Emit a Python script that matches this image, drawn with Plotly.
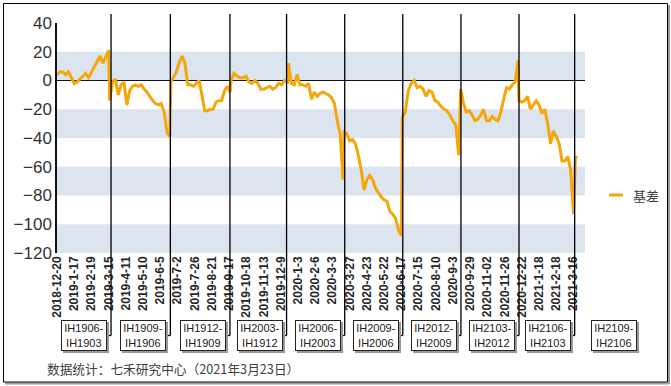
import plotly.graph_objects as go

# ---------------- data ----------------
tick_labels = ["2018-12-20", "2019-1-17", "2019-2-19", "2019-3-15", "2019-4-11", "2019-5-10",
               "2019-6-5", "2019-7-2", "2019-7-26", "2019-8-21", "2019-9-17", "2019-10-18",
               "2019-11-13", "2019-12-9", "2020-1-3", "2020-2-6", "2020-3-3", "2020-3-27",
               "2020-4-23", "2020-5-22", "2020-6-17", "2020-7-15", "2020-8-10", "2020-9-3",
               "2020-9-29", "2020-11-02", "2020-11-26", "2020-12-22", "2021-1-18", "2021-2-18",
               "2021-3-16"]
TICK_EVERY = 18  # trading days between tick labels

# main-contract basis, sampled along each contract's period (trading-day index)
seg_first_day = [0, 55, 119, 182, 242, 300, 361, 422, 483, 542]
seg_last_day = [54, 118, 181, 241, 299, 360, 420, 482, 540, 544]

basis_IH1903 = [4, 6, 6, 4, 6, 2, -2, -1, 1, 3, 5, 2, 6, 10, 14, 17, 12, 16, 21]
basis_IH1906 = [-14, -1, 1, -10, -3, -1, -17, -7, -4, -3, -4, -3, -6, -8, -11, -14, -16, -17,
                -16, -22, -36, -39]
basis_IH1909 = [-1, 3, 6, 13, 17, 12, -3, -3, -4, -2, 0, -10, -21, -21, -20, -20, -15, -14,
                -14, -7, -4, -8]
basis_IH1912 = [0, 5, 3, 2, 2, 3, -1, -2, 0, -2, -6, -6, -5, -4, -6, -5, -2, -3, 0, -1]
basis_IH2003 = [12, -2, -3, 4, -3, -3, -4, -2, -13, -8, -11, -9, -8, -9, -10, -12, -16, -28,
                -37, -69]
basis_IH2006 = [-36, -37, -42, -41, -44, -52, -62, -76, -69, -66, -69, -75, -78, -81, -83, -84,
                -91, -93, -96, -104, -108]
basis_IH2009 = [-26, -22, -7, -2, 0, -5, -4, -6, -11, -7, -8, -14, -15, -18, -20, -21, -24, -28,
                -31, -52]
basis_IH2012 = [-6, -16, -22, -21, -24, -28, -27, -24, -20, -28, -28, -25, -27, -28, -22, -13,
                -5, -6, -3, -1, 14]
basis_IH2103 = [-14, -15, -14, -11, -20, -17, -14, -17, -23, -20, -30, -44, -35, -39, -44, -56,
                -56, -53, -62, -93]
basis_IH2106 = [-53, -54]

segments = [basis_IH1903, basis_IH1906, basis_IH1909, basis_IH1912, basis_IH2003,
            basis_IH2006, basis_IH2009, basis_IH2012, basis_IH2103, basis_IH2106]

# contract roll markers (trading-day index) and their labels
roll_day = [56.5, 118.5, 180.8, 240.0, 300.8, 361.5, 422.3, 483.0, 541.2]
roll_labels = ["IH1906-<br>IH1903", "IH1909-<br>IH1906", "IH1912-<br>IH1909",
               "IH2003-<br>IH1912", "IH2006-<br>IH2003", "IH2009-<br>IH2006",
               "IH2012-<br>IH2009", "IH2103-<br>IH2012", "IH2106-<br>IH2103"]
next_label = "IH2109-<br>IH2106"

series_name = "基差"
source_note = "数据统计：七禾研究中心（2021年3月23日）"

# ---------------- build series ----------------
xs, ys = [], []
for first, last, vals in zip(seg_first_day, seg_last_day, segments):
    n = len(vals)
    for k, v in enumerate(vals):
        xs.append(first + (last - first) * k / (n - 1) if n > 1 else first)
        ys.append(v)

# ---------------- layout geometry ----------------
W, H = 671, 386
L, R, T, B = 57, 86, 23, 133
PW, PH = W - L - R, H - T - B


def px(xp):
    return (xp - L) / PW


def py(yp):
    return (H - B - yp) / PH


ORANGE = "#f5a70a"
BAND = "#dbe4ef"
FONT = "Arial, Liberation Sans, sans-serif"
CJK = "Noto Sans CJK SC, sans-serif"

fig = go.Figure()
fig.add_trace(go.Scatter(x=xs, y=ys, mode="lines", name=series_name,
                         line=dict(color=ORANGE, width=3), showlegend=False))

shapes = []
# alternating bands
for lo in [0, -40, -80, -120]:
    shapes.append(dict(type="rect", xref="paper", yref="y", x0=0, x1=1, y0=lo, y1=lo + 20,
                       fillcolor=BAND, line=dict(width=0), layer="below"))

annotations = []
box_y = py(335.5)
line_top = py(14)
GAP = 4
for d, lab in zip(roll_day, roll_labels):
    shapes.append(dict(type="line", xref="x", yref="paper", x0=d, x1=d, y0=line_top, y1=box_y,
                       line=dict(color="black", width=1.3)))
    shapes.append(dict(type="line", xref="x", xsizemode="pixel", xanchor=d, x0=-GAP, x1=0,
                       yref="paper", y0=box_y, y1=box_y, line=dict(color="black", width=1.3)))
    # shadow
    annotations.append(dict(xref="x", yref="paper", x=d, y=box_y, xanchor="right",
                            yanchor="middle", xshift=-GAP + 2, yshift=-2, text=" ",
                            showarrow=False, width=44, height=29, bgcolor="#9a9a9a",
                            bordercolor="#9a9a9a", borderwidth=1, borderpad=0))
    annotations.append(dict(xref="x", yref="paper", x=d, y=box_y, xanchor="right",
                            yanchor="middle", xshift=-GAP, text=lab, showarrow=False,
                            width=44, height=29, bgcolor="white", bordercolor="#222",
                            borderwidth=1, borderpad=0,
                            font=dict(family=FONT, size=11, color="#222")))

# last (upcoming) contract box
annotations.append(dict(xref="paper", yref="paper", x=px(636.7), y=box_y, xanchor="right",
                        yanchor="middle", xshift=2, yshift=-2, text=" ", showarrow=False,
                        width=44, height=29, bgcolor="#9a9a9a", bordercolor="#9a9a9a",
                        borderwidth=1, borderpad=0))
annotations.append(dict(xref="paper", yref="paper", x=px(636.7), y=box_y, xanchor="right",
                        yanchor="middle", text=next_label, showarrow=False, width=44,
                        height=29, bgcolor="white", bordercolor="#222", borderwidth=1,
                        borderpad=0, font=dict(family=FONT, size=11, color="#222")))

# legend (manual)
shapes.append(dict(type="line", xref="paper", yref="paper", x0=px(609), x1=px(623),
                   y0=py(195), y1=py(195), line=dict(color=ORANGE, width=3)))
annotations.append(dict(xref="paper", yref="paper", x=px(631), y=py(195), xanchor="left",
                        yanchor="middle", text=series_name, showarrow=False,
                        font=dict(family=CJK, size=13, color="#404040")))

# source note
annotations.append(dict(xref="paper", yref="paper", x=px(45), y=py(368), xanchor="left",
                        yanchor="middle", text=source_note, showarrow=False,
                        font=dict(family=CJK, size=12.7, color="#404040")))

# outer frame with shadow
shapes.append(dict(type="line", xref="paper", yref="paper", x0=px(669), x1=px(669),
                   y0=py(5), y1=py(384), line=dict(color="#9a9a9a", width=2)))
shapes.append(dict(type="line", xref="paper", yref="paper", x0=px(5), x1=px(669),
                   y0=py(383.5), y1=py(383.5), line=dict(color="#9a9a9a", width=2)))
shapes.append(dict(type="rect", xref="paper", yref="paper", x0=px(3.5), x1=px(667.5),
                   y0=py(3.5), y1=py(382), line=dict(color="black", width=1)))

fig.update_layout(
    width=W, height=H,
    margin=dict(l=L, r=R, t=T, b=B),
    paper_bgcolor="white", plot_bgcolor="white",
    shapes=shapes, annotations=annotations,
    showlegend=False,
    xaxis=dict(range=[0, 552], tickmode="array",
               tickvals=[i * TICK_EVERY for i in range(len(tick_labels))],
               ticktext=tick_labels, tickangle=-90, showgrid=False, zeroline=False,
               showline=False, ticks="",
               tickfont=dict(family=FONT, size=12, color="#262626", weight="bold")),
    yaxis=dict(range=[-120, 40], dtick=20, tick0=0, showgrid=False, zeroline=True,
               zerolinecolor="#111", zerolinewidth=1.3, showline=True, linecolor="#111",
               linewidth=1.5, ticks="", tickfont=dict(family=FONT, size=17, color="#333")),
)

fig.write_html("out.html", config={"displayModeBar": False},
               post_script="document.body.style.margin='0';document.body.style.padding='0';")
